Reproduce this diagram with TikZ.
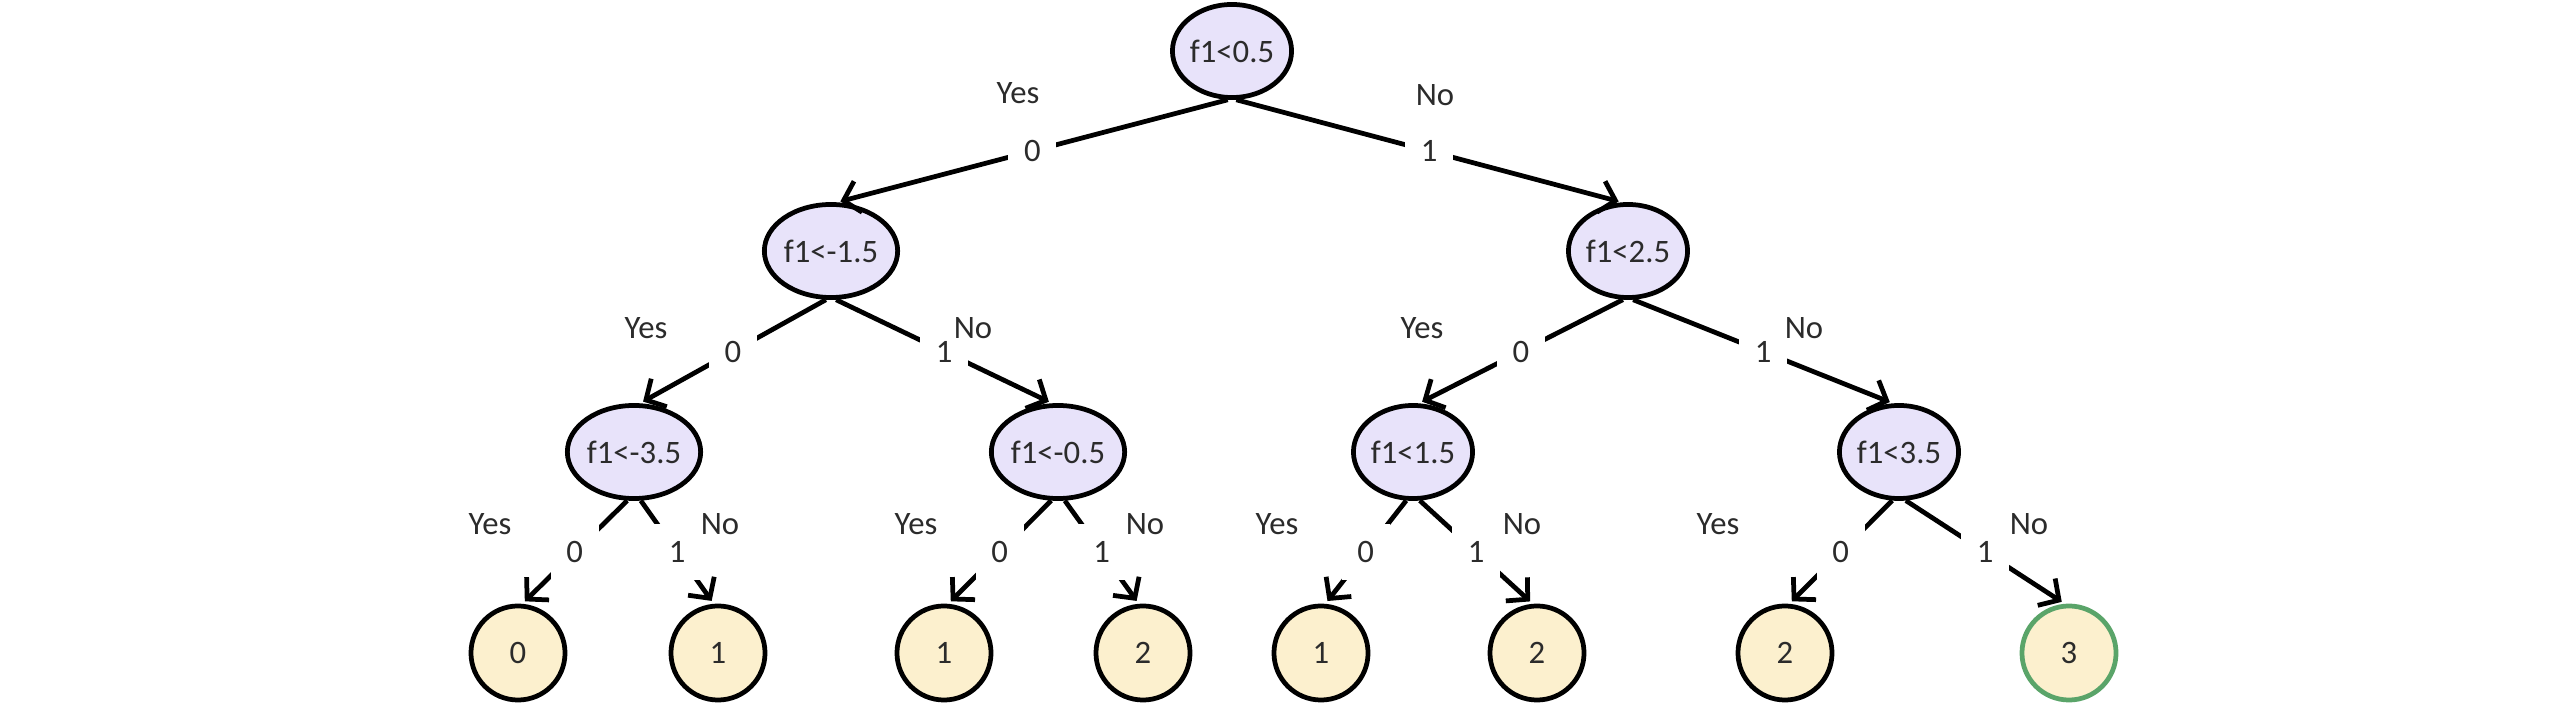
\documentclass[tikz,border=0pt]{standalone}
\usepackage{fontspec}
\setmainfont{Carlito}
\usetikzlibrary{arrows.meta,positioning,shapes.geometric}
\definecolor{lilac}{HTML}{E8E3FA}
\definecolor{cream}{HTML}{FCF0CE}
\definecolor{leafgreen}{HTML}{5AA469}
\definecolor{txt}{HTML}{2B2B2B}

\begin{document}
\begin{tikzpicture}[x=0.01cm,y=-0.01cm,
 font=\fontsize{9.3}{11}\selectfont,text=txt,
 split/.style={draw=black,line width=1.35pt,fill=lilac,ellipse,
 minimum width=1.17cm,minimum height=0.93cm,inner sep=0pt},
 leaf/.style={draw=black,line width=1.35pt,fill=cream,circle,
 minimum size=0.94cm,inner sep=0pt},
 best/.style={leaf,draw=leafgreen},
 arr/.style={-{Straight Barb[length=1.5mm,width=3.2mm]},line width=1.35pt,
 shorten >=1pt},
 bit/.style={fill=white,minimum width=0.48cm,minimum height=0.56cm,inner sep=0pt},
 ans/.style={inner sep=0pt}]
 \useasboundingbox (0,0) rectangle (2560,728);
 % splits
 \node[split] (r) at (1232,51) {f1<0.5};
 \node[split] (a) at (831,251) {f1<-1.5};
 \node[split] (b) at (1628,251) {f1<2.5};
 \node[split] (c) at (634,452) {f1<-3.5};
 \node[split] (d) at (1058,452) {f1<-0.5};
 \node[split] (e) at (1413,452) {f1<1.5};
 \node[split] (f) at (1899,452) {f1<3.5};
 % leaves
 \node[leaf] (l1) at (518,653) {0};
 \node[leaf] (l2) at (718,653) {1};
 \node[leaf] (l3) at (944,653) {1};
 \node[leaf] (l4) at (1143,653) {2};
 \node[leaf] (l5) at (1321,653) {1};
 \node[leaf] (l6) at (1537,653) {2};
 \node[leaf] (l7) at (1785,653) {2};
 \node[best] (l8) at (2069,653) {3};
 % edges
 \draw[arr] (r.265) -- node[bit]{0} (a.83);
 \draw[arr] (r.275) -- node[bit]{1} (b.97);
 \draw[arr] (a.264) -- node[bit]{0} (c.83);
 \draw[arr] (a.276) -- node[bit]{1} (d.97);
 \draw[arr] (b.264) -- node[bit]{0} (e.83);
 \draw[arr] (b.276) -- node[bit]{1} (f.97);
 \draw[arr] (c.262) -- node[bit]{0} (l1.85);
 \draw[arr] (c.278) -- node[bit]{1} (l2.95);
 \draw[arr] (d.262) -- node[bit]{0} (l3.85);
 \draw[arr] (d.278) -- node[bit]{1} (l4.95);
 \draw[arr] (e.262) -- node[bit]{0} (l5.85);
 \draw[arr] (e.278) -- node[bit]{1} (l6.95);
 \draw[arr] (f.262) -- node[bit]{0} (l7.85);
 \draw[arr] (f.278) -- node[bit]{1} (l8.95);
 % answers
 \node[ans] (ryes) at (1018,93) {Yes};
 \node[ans] (rno) at (1435,95) {No};
 \node[ans] (ayes) at (646,328) {Yes};
 \node[ans] (ano) at (973,328) {No};
 \node[ans] (byes) at (1422,328) {Yes};
 \node[ans] (bno) at (1804,328) {No};
 \node[ans] (cyes) at (490,524) {Yes};
 \node[ans] (cno) at (720,524) {No};
 \node[ans] (dyes) at (916,524) {Yes};
 \node[ans] (dno) at (1145,524) {No};
 \node[ans] (eyes) at (1277,524) {Yes};
 \node[ans] (eno) at (1522,524) {No};
 \node[ans] (fyes) at (1718,524) {Yes};
 \node[ans] (fno) at (2029,524) {No};
\end{tikzpicture}
\end{document}
